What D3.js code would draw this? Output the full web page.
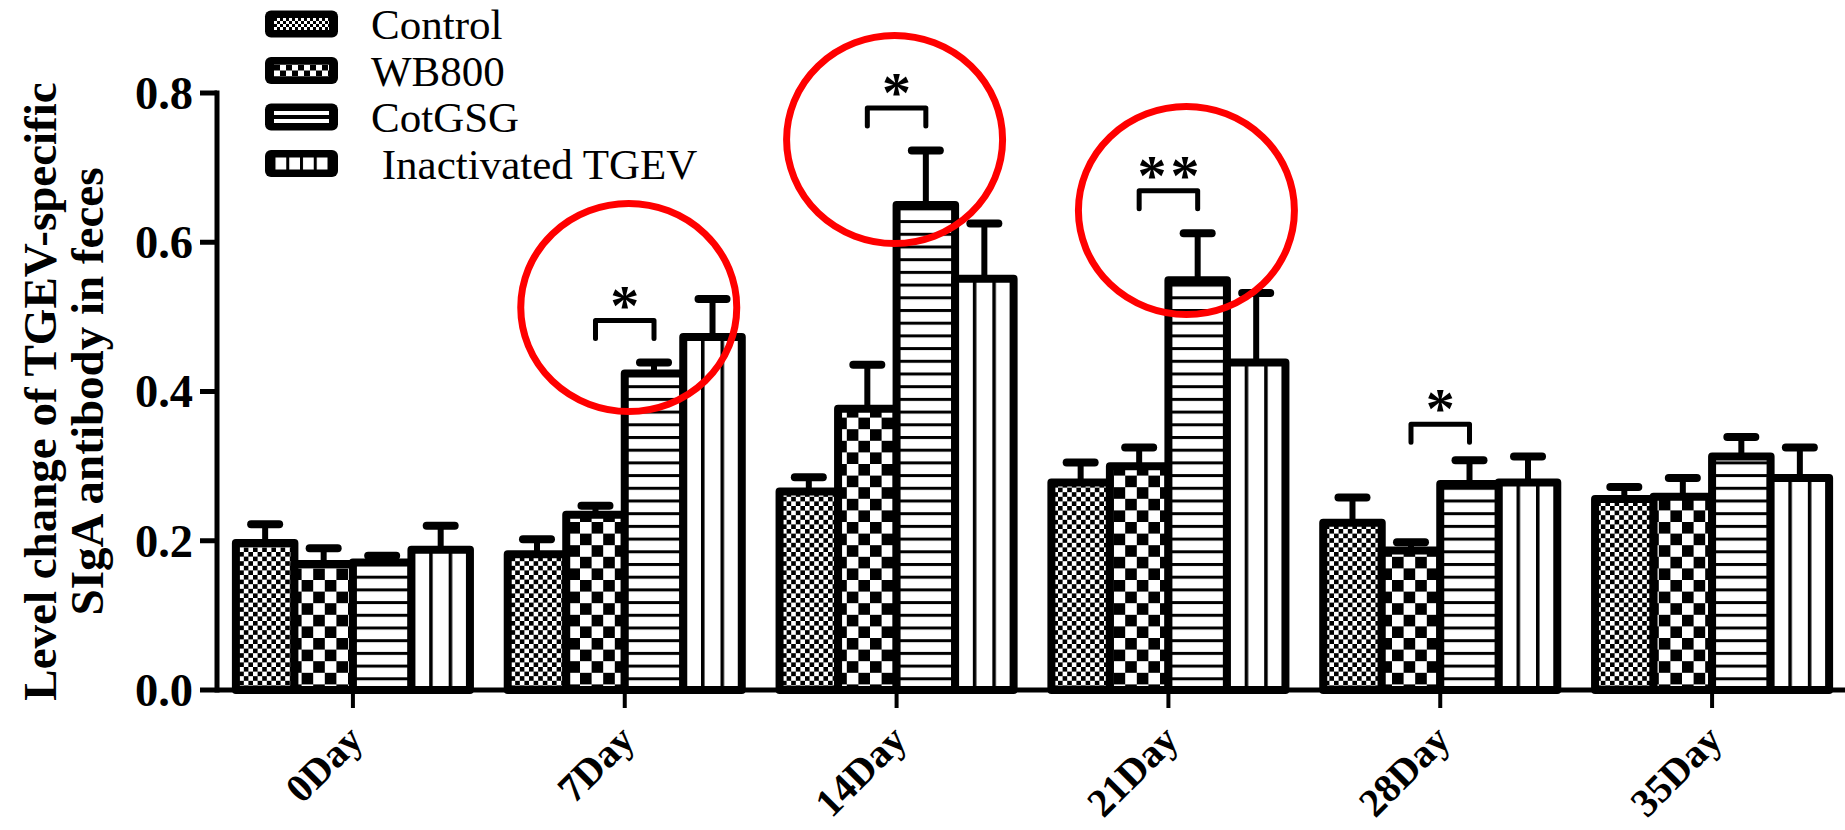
<!DOCTYPE html>
<html><head><meta charset="utf-8">
<script src="https://cdn.jsdelivr.net/npm/d3@7/dist/d3.min.js"></script>
<style>html,body{margin:0;padding:0;background:#fff;}svg{display:block;}</style>
</head><body>
<svg id="chart" width="1845" height="830"></svg>
<script>
// ---------- data ----------
const days = ["0Day","7Day","14Day","21Day","28Day","35Day"];
const seriesNames = ["Control","WB800","CotGSG"," Inactivated TGEV"];
const controlMean     = [0.197, 0.182, 0.266, 0.278, 0.224, 0.256];
const wb800Mean       = [0.169, 0.235, 0.377, 0.300, 0.187, 0.259];
const cotgsgMean      = [0.171, 0.424, 0.650, 0.549, 0.276, 0.313];
const inactivatedMean = [0.188, 0.473, 0.551, 0.439, 0.278, 0.284];
const controlErr      = [0.025, 0.020, 0.019, 0.027, 0.034, 0.016];
const wb800Err        = [0.021, 0.012, 0.059, 0.025, 0.011, 0.025];
const cotgsgErr       = [0.009, 0.015, 0.073, 0.063, 0.032, 0.026];
const inactivatedErr  = [0.032, 0.051, 0.074, 0.093, 0.035, 0.041];
const yTicks = [0.0, 0.2, 0.4, 0.6, 0.8];
const yTitleLines = ["Level change of TGEV-specific", "SIgA antibody in feces"];
// significance brackets (WB800 vs CotGSG)
const sigDays   = ["7Day","14Day","21Day","28Day"];
const sigLevels = [0.495, 0.780, 0.669, 0.356];
const sigLabels = ["*","*","**","*"];
// red highlight circles
const circleDays    = ["7Day","14Day","21Day"];
const circleLevels  = [0.5126, 0.7377, 0.6425];

// ---------- layout ----------
const means = [controlMean, wb800Mean, cotgsgMean, inactivatedMean];
const errs  = [controlErr, wb800Err, cotgsgErr, inactivatedErr];
const svg = d3.select("#chart");
const FONT = "'Liberation Serif','Times New Roman',serif";
const axisX = 217;

const y = d3.scaleLinear().domain([0, 0.8]).range([690, 93]);
const x0 = d3.scaleBand().domain(days).range([217, 1848]).paddingInner(0.139).paddingOuter(0.0695);
const x1 = d3.scaleBand().domain(d3.range(4)).range([0, x0.bandwidth()]);
const gx = d => x0(d) + x0.bandwidth() / 2;
const bx = (d, s) => x0(d) + x1(s) + x1.bandwidth() / 2;

// ---------- patterns ----------
const defs = svg.append("defs");
function checker(id, cell, ox, oy) {
  const p = defs.append("pattern").attr("id", id).attr("patternUnits", "userSpaceOnUse")
    .attr("x", ox).attr("y", oy).attr("width", cell * 2).attr("height", cell * 2);
  p.append("rect").attr("width", cell * 2).attr("height", cell * 2).attr("fill", "#fff");
  p.append("rect").attr("width", cell).attr("height", cell).attr("fill", "#000");
  p.append("rect").attr("x", cell).attr("y", cell).attr("width", cell).attr("height", cell).attr("fill", "#000");
}
checker("p0", 4.6, 0, 0);
checker("p1", 11.6, 0, 0);
{
  const p = defs.append("pattern").attr("id", "p2").attr("patternUnits", "userSpaceOnUse")
    .attr("x", 0).attr("y", 690).attr("width", 10).attr("height", 12.7);
  p.append("rect").attr("width", 10).attr("height", 12.7).attr("fill", "#fff");
  p.append("rect").attr("y", 0).attr("width", 10).attr("height", 3).attr("fill", "#000");
}
{
  const p = defs.append("pattern").attr("id", "p3").attr("patternUnits", "objectBoundingBox")
    .attr("patternContentUnits", "objectBoundingBox")
    .attr("x", -0.03).attr("y", 0).attr("width", 1 / 3).attr("height", 1);
  p.append("rect").attr("width", 1 / 3).attr("height", 1).attr("fill", "#fff");
  p.append("rect").attr("width", 0.06).attr("height", 1).attr("fill", "#000");
}

// ---------- axes ----------
const yAxis = svg.append("g");
yAxis.append("line").attr("x1", axisX).attr("x2", axisX).attr("y1", y(0.8) - 2.5).attr("y2", y(0) + 2.5)
  .attr("stroke", "#000").attr("stroke-width", 5);
yAxis.selectAll("line.tick").data(yTicks).join("line").attr("class", "tick")
  .attr("x1", axisX - 17).attr("x2", axisX).attr("y1", d => y(d)).attr("y2", d => y(d))
  .attr("stroke", "#000").attr("stroke-width", 5);
yAxis.selectAll("text").data(yTicks).join("text")
  .attr("x", axisX - 24).attr("y", d => y(d)).attr("dy", "0.34em")
  .attr("text-anchor", "end").attr("font-family", FONT).attr("font-weight", "bold")
  .attr("font-size", 46.5).text(d => d3.format(".1f")(d));

const xAxis = svg.append("g");
xAxis.append("line").attr("x1", axisX).attr("x2", 1845).attr("y1", y(0)).attr("y2", y(0))
  .attr("stroke", "#000").attr("stroke-width", 5);
xAxis.selectAll("line.tick").data(days).join("line").attr("class", "tick")
  .attr("x1", d => gx(d)).attr("x2", d => gx(d)).attr("y1", y(0)).attr("y2", y(0) + 18)
  .attr("stroke", "#000").attr("stroke-width", 4);
xAxis.selectAll("text").data(days).join("text")
  .attr("transform", d => `translate(${gx(d) + 12},${y(0) + 52}) rotate(-45)`)
  .attr("text-anchor", "end").attr("font-family", FONT).attr("font-weight", "bold")
  .attr("font-size", 40).text(d => d);

// y title
svg.append("g").selectAll("text").data(yTitleLines).join("text")
  .attr("transform", (d, i) => `translate(${56 + i * 47},${(y(0) + y(0.8)) / 2}) rotate(-90)`)
  .attr("text-anchor", "middle").attr("font-family", FONT).attr("font-weight", "bold")
  .attr("font-size", 47).text(d => d);

// ---------- bars ----------
const barData = [];
days.forEach((d, i) => means.forEach((m, s) => barData.push({ day: d, s, v: m[i], e: errs[s][i] })));

const gBars = svg.append("g");
// error bars (upper only)
gBars.selectAll("line.err").data(barData).join("line").attr("class", "err")
  .attr("x1", d => bx(d.day, d.s)).attr("x2", d => bx(d.day, d.s))
  .attr("y1", d => y(d.v)).attr("y2", d => y(d.v + d.e))
  .attr("stroke", "#000").attr("stroke-width", 6);
gBars.selectAll("line.cap").data(barData).join("line").attr("class", "cap")
  .attr("x1", d => bx(d.day, d.s) - 14).attr("x2", d => bx(d.day, d.s) + 14)
  .attr("y1", d => y(d.v + d.e)).attr("y2", d => y(d.v + d.e))
  .attr("stroke", "#000").attr("stroke-width", 8).attr("stroke-linecap", "round");
gBars.selectAll("rect").data(barData).join("rect")
  .attr("x", d => x0(d.day) + x1(d.s)).attr("width", x1.bandwidth())
  .attr("y", d => y(d.v)).attr("height", d => y(0) - y(d.v))
  .attr("fill", d => `url(#p${d.s})`).attr("stroke", "#000").attr("stroke-width", 8)
  .attr("stroke-linejoin", "round");

// ---------- significance ----------
const sigData = sigDays.map((d, i) => ({ day: d, lv: sigLevels[i], lab: sigLabels[i] }));
const gSig = svg.append("g");
gSig.selectAll("path").data(sigData).join("path")
  .attr("d", d => {
    const a = bx(d.day, 1), b = bx(d.day, 2), yy = y(d.lv);
    return `M${a},${yy + 18}V${yy}H${b}V${yy + 18}`;
  })
  .attr("fill", "none").attr("stroke", "#000").attr("stroke-width", 5)
  .attr("stroke-linecap", "round").attr("stroke-linejoin", "round");
gSig.selectAll("text").data(sigData).join("text")
  .attr("x", d => (bx(d.day, 1) + bx(d.day, 2)) / 2 + (d.lab.length > 1 ? 2 : 0))
  .attr("y", d => y(d.lv) + 4)
  .attr("text-anchor", "middle").attr("font-family", FONT).attr("font-weight", "bold")
  .attr("font-size", 58)
  .attr("letter-spacing", d => d.lab.length > 1 ? 4 : 0).text(d => d.lab);

// ---------- red circles ----------
const circleDx = [4, -2, 18];
svg.append("g").selectAll("ellipse").data(circleDays).join("ellipse")
  .attr("cx", (d, i) => gx(d) + circleDx[i]).attr("cy", (d, i) => y(circleLevels[i]))
  .attr("rx", 108).attr("ry", 104)
  .attr("fill", "none").attr("stroke", "#ff0000").attr("stroke-width", 7);

// ---------- legend ----------
const legend = svg.append("g");
seriesNames.forEach((name, i) => {
  const cy = 24 + i * 46.5, bx0 = 265, bw = 73, bh = 27;
  const ix = bx0 + 9, iy = cy - 6, iw = bw - 18, ih = 12;
  const pid = "lp" + i;
  const p = defs.append("pattern").attr("id", pid).attr("patternUnits", "userSpaceOnUse").attr("x", ix).attr("y", iy);
  if (i === 0) {
    p.attr("width", 6).attr("height", 6);
    p.append("rect").attr("width", 6).attr("height", 6).attr("fill", "#fff");
    p.append("rect").attr("width", 3).attr("height", 3).attr("fill", "#000");
    p.append("rect").attr("x", 3).attr("y", 3).attr("width", 3).attr("height", 3).attr("fill", "#000");
  } else if (i === 1) {
    p.attr("width", 12).attr("height", 12);
    p.append("rect").attr("width", 12).attr("height", 12).attr("fill", "#fff");
    p.append("rect").attr("width", 6).attr("height", 6).attr("fill", "#000");
    p.append("rect").attr("x", 6).attr("y", 6).attr("width", 6).attr("height", 6).attr("fill", "#000");
  } else if (i === 2) {
    p.attr("width", 10).attr("height", ih);
    p.append("rect").attr("width", 10).attr("height", ih).attr("fill", "#fff");
    p.append("rect").attr("y", ih / 2 - 2).attr("width", 10).attr("height", 4).attr("fill", "#000");
  } else {
    p.attr("width", iw / 4).attr("height", ih).attr("x", ix - 1.5);
    p.append("rect").attr("width", iw / 4).attr("height", ih).attr("fill", "#fff");
    p.append("rect").attr("width", 3).attr("height", ih).attr("fill", "#000");
  }
  legend.append("rect").attr("x", bx0).attr("y", cy - bh / 2).attr("width", bw).attr("height", bh)
    .attr("rx", 6).attr("fill", "#000");
  legend.append("rect").attr("x", ix).attr("y", iy).attr("width", iw).attr("height", ih)
    .attr("fill", `url(#${pid})`);
  legend.append("text").attr("x", 371).attr("y", cy).attr("dy", "0.35em")
    .attr("font-family", FONT).attr("font-size", 43).style("white-space", "pre").text(name);
});
</script>
</body></html>
